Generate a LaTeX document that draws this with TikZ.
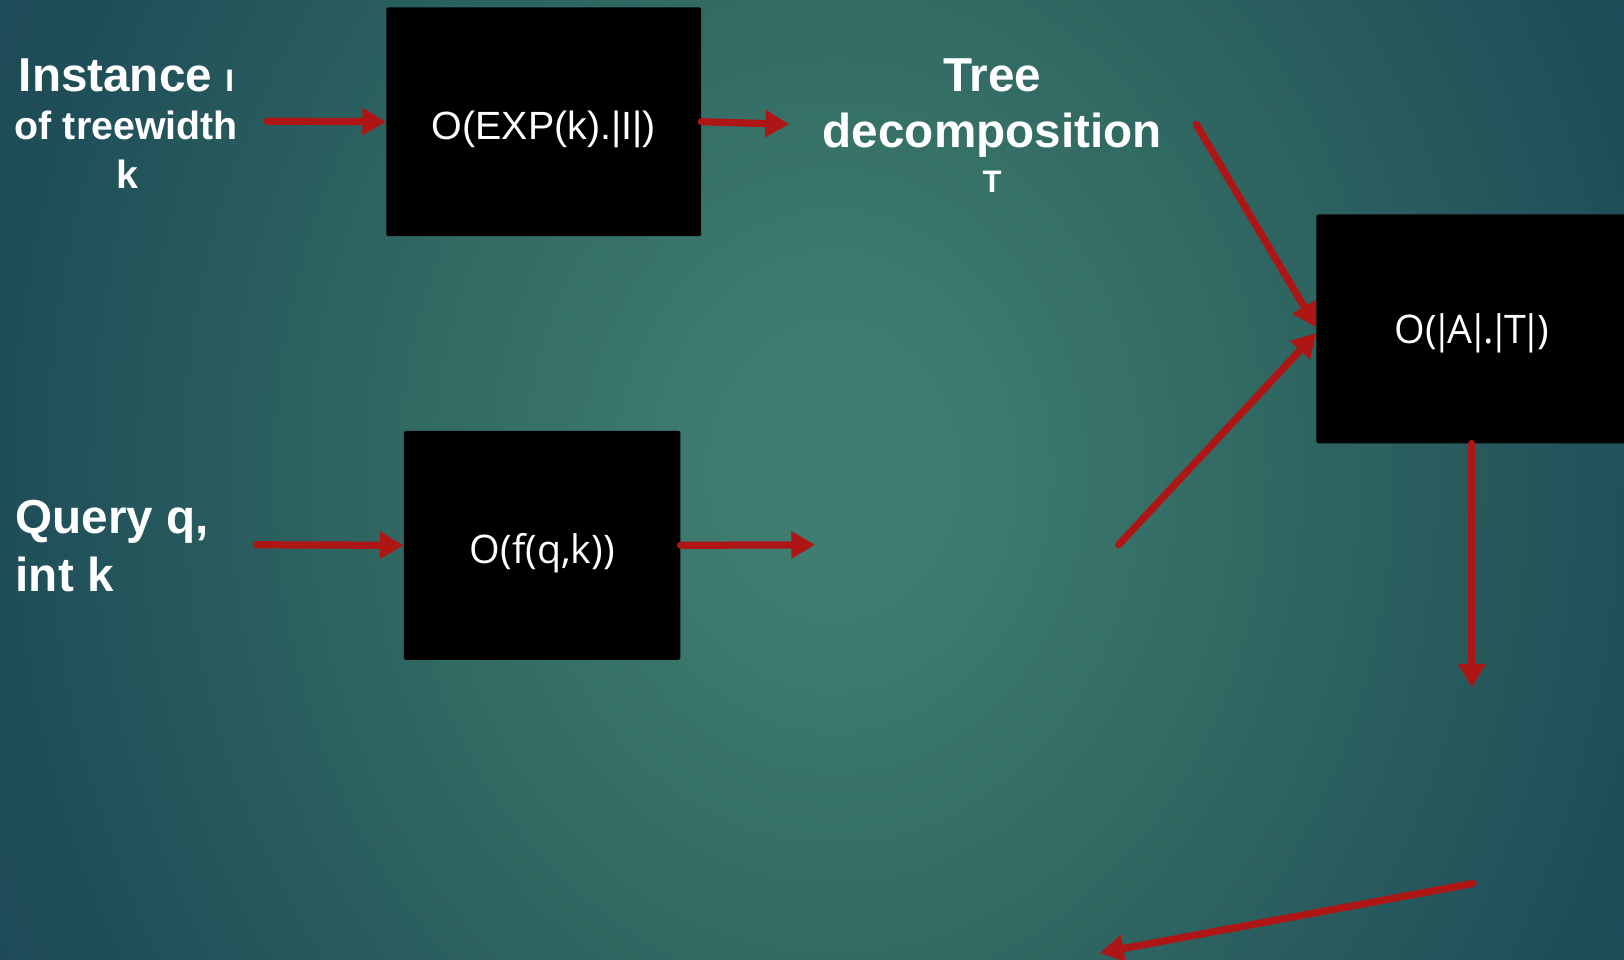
\documentclass[tikz,border=0pt]{standalone}
\usepackage{fontspec}
\setmainfont{Liberation Sans}
\newfontfamily\uifont{Open Sans}
\usetikzlibrary{arrows.meta}

\definecolor{bgc}{HTML}{3F7D70}
\definecolor{bgm}{HTML}{2F6661}
\definecolor{bge}{HTML}{1F4E59}
\definecolor{bgd}{HTML}{163E4D}
\definecolor{arrowred}{HTML}{AE1616}

% a vertical bar with tight side bearings
\newcommand{\tightbar}{\kern-0.14em|\kern-0.14em}

\begin{document}
\begin{tikzpicture}[x=1pt,y=-1pt,
  blackbox/.style={fill=black, rounded corners=1.5pt, minimum height=221pt,
    text=white, inner sep=0pt, text depth=0pt,
    font=\fontsize{38}{40}\selectfont},
  flow/.style={draw=arrowred, line width=7pt, line cap=round,
    -{Triangle[length=23pt,width=25pt]}},
  heading/.style={text=white, inner sep=0pt, anchor=base},
  bigbold/.style={font=\fontsize{46}{48}\selectfont\bfseries},
  midbold/.style={font=\fontsize{38}{40}\selectfont\bfseries}]

\useasboundingbox (0,0) rectangle (1568,926);

% background: soft glow, brightest a little left of centre
\begin{scope}
  \clip (0,0) rectangle (1568,926);
  \fill[bgd] (0,0) rectangle (1568,926);
  \foreach \ra/\rb/\ca/\cb in {800/1240/bge/bgd, 450/800/bgm/bge, 100/450/bgc/bgm}{
    \pgfmathsetmacro{\rs}{\rb-10}
    \foreach \r in {\rb,\rs,...,\ra}{
      \pgfmathsetmacro{\p}{(\r-\ra)/(\rb-\ra)*100}
      \fill[fill=\cb!\p!\ca] (805,455) ellipse [x radius=\r pt, y radius=1.2*\r pt];
    }
  }
  \fill[bgc] (805,455) ellipse [x radius=100pt, y radius=120pt];
\end{scope}

% processing boxes
\node[blackbox, minimum width=304pt, text height=35pt] (expbox) at (525,117.5) {O(EXP(k).|I|)};
\node[blackbox, minimum width=267pt, text height=35pt, font=\fontsize{38}{40}\uifont] (fbox) at (523.5,526.5) {O(f(q,k))};
\node[blackbox, minimum width=300pt, text height=28pt, font=\fontsize{38}{40}\uifont] (atbox) at (1421,317.5) {O(\tightbar A\tightbar.\tightbar T\tightbar)};

% input and intermediate labels
\node[heading, bigbold] (inst1) at (122,88) {Instance {\fontsize{30}{32}\selectfont I}};
\node[heading, midbold] (inst2) at (122,135) {of treewidth};
\node[heading, midbold] (inst3) at (123,182) {k};

\node[heading, bigbold] (tree1) at (958,88) {Tree};
\node[heading, bigbold] (tree2) at (958,142) {decomposition};
\node[heading, font=\fontsize{30}{32}\selectfont\bfseries] (tree3) at (958,186) {T};

\node[heading, bigbold, anchor=base west] (query1) at (15,515) {Query q,};
\node[heading, bigbold, anchor=base west] (query2) at (15,571) {int k};

% connector end points
\coordinate (instTail) at (258,117);
\coordinate (treeHead) at (762,120);
\coordinate (treeTail) at (1155,120);
\coordinate (queryTail) at (1080,526);
\coordinate (atHead) at (1421,664);
\coordinate (outTail) at (1422,853);
\coordinate (outHead) at (1062,920);
\coordinate (qTail) at (248,526);
\coordinate (fHead) at (787,526);

% connectors
\draw[flow] (instTail) -- (expbox.west);
\draw[flow] (expbox.east) -- (treeHead);
\draw[flow] (treeTail) -- ([yshift=1.5pt]atbox.west);
\draw[flow] (queryTail) -- ([yshift=-4pt]atbox.west);
\draw[flow] (atbox.south) -- (atHead);
\draw[flow] (outTail) -- (outHead);
\draw[flow] (qTail) -- (fbox.west);
\draw[flow] (fbox.east) -- (fHead);
\end{tikzpicture}
\end{document}
